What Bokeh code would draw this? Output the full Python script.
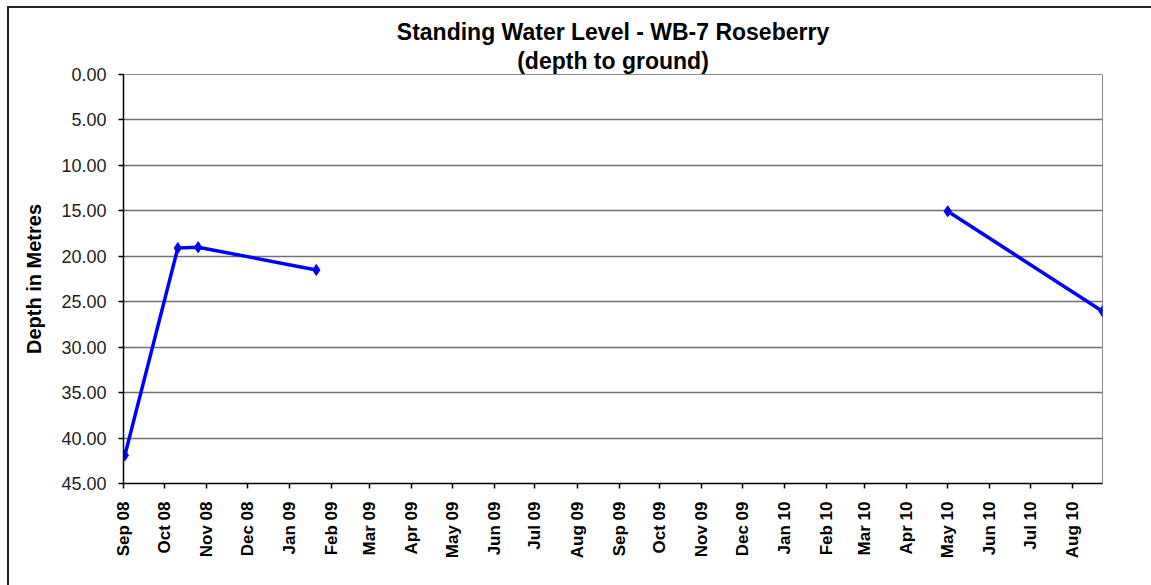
import numpy as np
import pandas as pd
from bokeh.plotting import figure
from bokeh.models import Range1d, FixedTicker, NumeralTickFormatter, DatetimeTickFormatter, Title
from bokeh.embed import file_html
from bokeh.resources import INLINE

# ---- data ----
dates = ["2008-09-02", "2008-10-11", "2008-10-26", "2009-01-21", None, "2010-05-01", "2010-08-23"]
depths = [41.9, 19.1, 19.0, 21.5, None, 15.05, 26.05]
tick_months = ["2008-09-01", "2008-10-01", "2008-11-01", "2008-12-01", "2009-01-01", "2009-02-01",
               "2009-03-01", "2009-04-01", "2009-05-01", "2009-06-01", "2009-07-01", "2009-08-01",
               "2009-09-01", "2009-10-01", "2009-11-01", "2009-12-01", "2010-01-01", "2010-02-01",
               "2010-03-01", "2010-04-01", "2010-05-01", "2010-06-01", "2010-07-01", "2010-08-01"]
y_ticks = [0, 5, 10, 15, 20, 25, 30, 35, 40, 45]
x_start = "2008-09-01"
x_end = "2010-08-23"
title_line1 = "Standing Water Level - WB-7 Roseberry"
title_line2 = "(depth to ground)"

def to_ms(s):
    return pd.Timestamp(s).value / 1e6

xs = np.array([to_ms(d) if d else np.nan for d in dates])
ys = np.array([v if v is not None else np.nan for v in depths], dtype=float)

FONT = "Liberation Sans"

# outer chart border (only its left and top edges are visible in the reference)
border_css = ("linear-gradient(#222,#222) 7px 6px / 2px 600px no-repeat, "
              "linear-gradient(#222,#222) 7px 6px / 1200px 2px no-repeat, white")

p = figure(width=1151, height=585, x_axis_type="datetime",
           x_range=Range1d(to_ms(x_start), to_ms(x_end)),
           y_range=Range1d(45, 0),
           output_backend="svg", toolbar_location=None,
           min_border_left=123, min_border_right=49, min_border_top=74, min_border_bottom=102,
           styles={"background": border_css})

sub = Title(text=title_line2, align="center", text_font=FONT, text_font_size="23px",
            text_font_style="bold", text_color="black", standoff=2)
main = Title(text=title_line1, align="center", text_font=FONT, text_font_size="23px",
             text_font_style="bold", text_color="black", standoff=0)
p.add_layout(sub, "above")
p.add_layout(main, "above")

p.outline_line_color = "#8c8c8c"
p.outline_line_width = 1
p.background_fill_color = "white"
p.border_fill_color = None

p.xgrid.grid_line_color = None
p.ygrid.grid_line_color = "#707070"
p.ygrid.grid_line_width = 1.5

# y axis
p.yaxis.ticker = FixedTicker(ticks=y_ticks)
p.yaxis.formatter = NumeralTickFormatter(format="0.00")
p.yaxis.axis_label = "Depth in Metres"
p.yaxis.axis_label_text_font = FONT
p.yaxis.axis_label_text_font_size = "20px"
p.yaxis.axis_label_text_font_style = "bold"
p.yaxis.axis_label_text_color = "black"
p.yaxis.axis_label_standoff = 13
p.yaxis.major_label_text_font = FONT
p.yaxis.major_label_text_font_size = "18px"
p.yaxis.major_label_text_color = "#222222"
p.yaxis.major_label_standoff = 12
p.yaxis.major_tick_out = 5
p.yaxis.major_tick_in = 0
p.yaxis.minor_tick_out = 0
p.yaxis.minor_tick_in = 0
p.yaxis.axis_line_color = "black"
p.yaxis.axis_line_width = 1.5
p.yaxis.major_tick_line_color = "black"
p.yaxis.major_tick_line_width = 1.5

# x axis
p.xaxis.ticker = FixedTicker(ticks=[to_ms(m) for m in tick_months])
fmt = "%b %y"
p.xaxis.formatter = DatetimeTickFormatter(years=fmt, months=fmt, days=fmt, hours=fmt, minutes=fmt,
                                          seconds=fmt, milliseconds=fmt, microseconds=fmt,
                                          hourmin=fmt, minsec=fmt)
p.xaxis.major_label_orientation = np.pi / 2
p.xaxis.major_label_text_font = FONT
p.xaxis.major_label_text_font_size = "17px"
p.xaxis.major_label_text_font_style = "bold"
p.xaxis.major_label_text_color = "black"
p.xaxis.major_label_standoff = 13
p.xaxis.major_tick_out = 5
p.xaxis.major_tick_in = 0
p.xaxis.minor_tick_out = 0
p.xaxis.minor_tick_in = 0
p.xaxis.axis_line_color = "black"
p.xaxis.axis_line_width = 1.5
p.xaxis.major_tick_line_color = "black"
p.xaxis.major_tick_line_width = 1.5

p.line(xs, ys, line_color="#0000ff", line_width=3.5)
p.scatter(xs, ys, marker="diamond", size=11, color="#0000ff")

open("out.html", "w").write(file_html(p, INLINE))
